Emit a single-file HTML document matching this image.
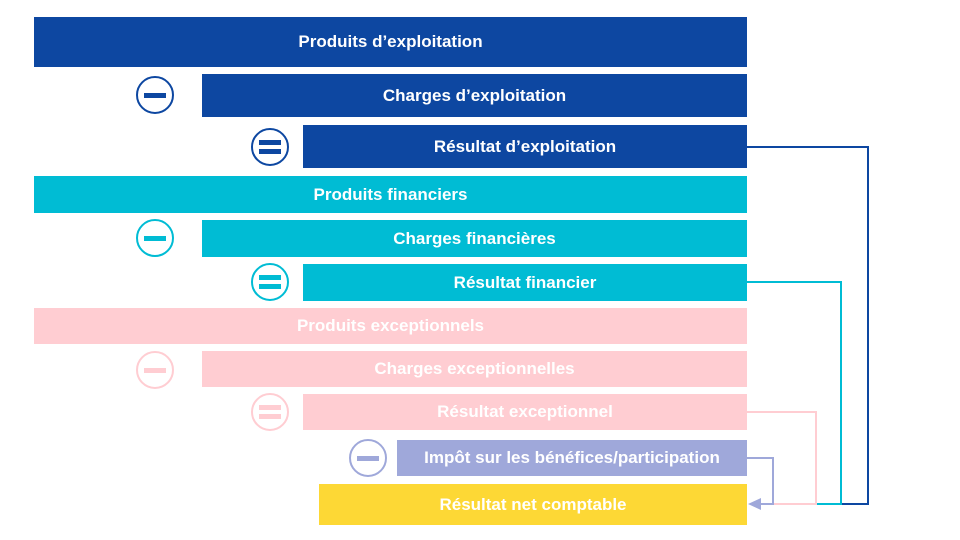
<!DOCTYPE html>
<html><head><meta charset="utf-8"><style>
body{margin:0;width:960px;height:540px;background:#fff;position:relative;overflow:hidden;font-family:"Liberation Sans",sans-serif}
.b{position:absolute;color:#fff;font-weight:bold;font-size:17px;display:flex;align-items:center;justify-content:center}
svg{position:absolute;left:0;top:0}
</style></head><body>
<div class="b" style="left:34px;top:17px;width:713px;height:50px;background:#0d47a1">Produits d’exploitation</div>
<div class="b" style="left:202px;top:74px;width:545px;height:43px;background:#0d47a1">Charges d’exploitation</div>
<div class="b" style="left:303px;top:125px;width:444px;height:43px;background:#0d47a1">Résultat d’exploitation</div>
<div class="b" style="left:34px;top:176px;width:713px;height:37px;background:#00bcd4">Produits financiers</div>
<div class="b" style="left:202px;top:220px;width:545px;height:37px;background:#00bcd4">Charges financières</div>
<div class="b" style="left:303px;top:264px;width:444px;height:37px;background:#00bcd4">Résultat financier</div>
<div class="b" style="left:34px;top:308px;width:713px;height:36px;background:#ffcdd2">Produits exceptionnels</div>
<div class="b" style="left:202px;top:351px;width:545px;height:36px;background:#ffcdd2">Charges exceptionnelles</div>
<div class="b" style="left:303px;top:394px;width:444px;height:36px;background:#ffcdd2">Résultat exceptionnel</div>
<div class="b" style="left:397px;top:440px;width:350px;height:36px;background:#9fa8da">Impôt sur les bénéfices/participation</div>
<div class="b" style="left:319px;top:484px;width:428px;height:41px;background:#fdd835">Résultat net comptable</div>
<svg width="960" height="540">
<g fill="none" stroke-width="2">
<circle cx="155" cy="95" r="18" stroke="#0d47a1"/><circle cx="270" cy="147" r="18" stroke="#0d47a1"/>
<circle cx="155" cy="238" r="18" stroke="#00bcd4"/><circle cx="270" cy="282" r="18" stroke="#00bcd4"/>
<circle cx="155" cy="370" r="18" stroke="#ffcdd2"/><circle cx="270" cy="412" r="18" stroke="#ffcdd2"/>
<circle cx="368" cy="458" r="18" stroke="#9fa8da"/>
<polyline points="747,147 868,147 868,504 760,504" stroke="#0d47a1"/>
<polyline points="747,282 841,282 841,504 760,504" stroke="#00bcd4"/>
<polyline points="747,412 816,412 816,504 760,504" stroke="#ffcdd2"/>
<polyline points="747,458 773,458 773,504 760,504" stroke="#9fa8da"/>
</g>
<polygon points="748,504 761,498 761,510" fill="#9fa8da"/>
<rect x="144" y="93" width="22" height="5" fill="#0d47a1"/>
<rect x="259" y="140" width="22" height="5" fill="#0d47a1"/><rect x="259" y="149" width="22" height="5" fill="#0d47a1"/>
<rect x="144" y="236" width="22" height="5" fill="#00bcd4"/>
<rect x="259" y="275" width="22" height="5" fill="#00bcd4"/><rect x="259" y="284" width="22" height="5" fill="#00bcd4"/>
<rect x="144" y="368" width="22" height="5" fill="#ffcdd2"/>
<rect x="259" y="405" width="22" height="5" fill="#ffcdd2"/><rect x="259" y="414" width="22" height="5" fill="#ffcdd2"/>
<rect x="357" y="456" width="22" height="5" fill="#9fa8da"/>
</svg>
</body></html>
